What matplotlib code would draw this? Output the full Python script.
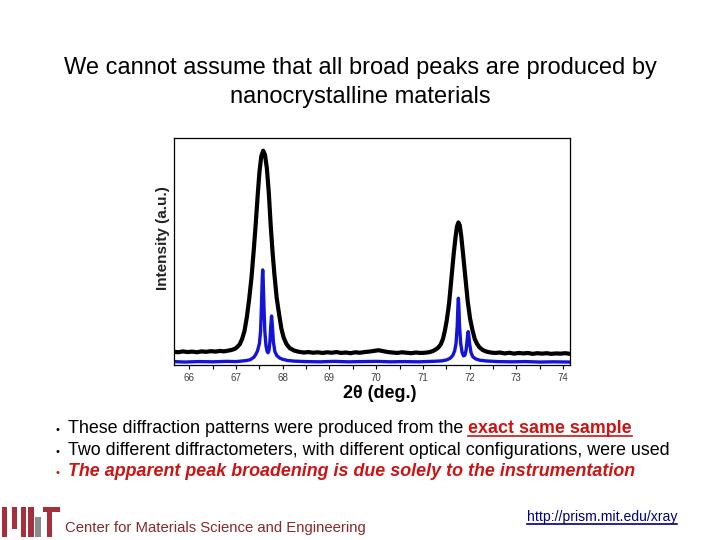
import matplotlib

matplotlib.use("Agg")
import matplotlib.pyplot as plt
from matplotlib.lines import Line2D
from matplotlib.patches import Rectangle

plt.rcParams["font.family"] = ["Liberation Sans", "DejaVu Sans"]

# black pattern (broad instrument)
black_x = [65.66, 65.76, 65.86, 65.96, 66.06, 66.16, 66.26, 66.36, 66.46, 66.56,
           66.66, 66.74, 66.82, 66.90, 66.98, 67.03, 67.08, 67.13, 67.18, 67.23,
           67.28, 67.33, 67.38, 67.42, 67.46, 67.50, 67.54, 67.58, 67.62, 67.66,
           67.70, 67.74, 67.78, 67.82, 67.87, 67.92, 67.97, 68.02, 68.08, 68.15,
           68.25, 68.35, 68.45, 68.55, 68.65, 68.75, 68.85, 68.95, 69.05, 69.15,
           69.25, 69.35, 69.45, 69.55, 69.65, 69.75, 69.85, 69.95, 70.05, 70.15,
           70.25, 70.35, 70.45, 70.55, 70.65, 70.75, 70.85, 70.95, 71.05, 71.15,
           71.22, 71.28, 71.33, 71.38, 71.43, 71.47, 71.51, 71.56, 71.61, 71.66,
           71.70, 71.73, 71.76, 71.79, 71.82, 71.86, 71.91, 71.96, 72.01, 72.06,
           72.11, 72.16, 72.21, 72.28, 72.36, 72.45, 72.55, 72.65, 72.75, 72.85,
           72.95, 73.05, 73.15, 73.25, 73.35, 73.45, 73.55, 73.65, 73.75, 73.85,
           73.95, 74.05, 74.15]
black_y = [5.9, 5.6, 6.0, 5.7, 5.9, 5.6, 6.0, 5.8, 6.1, 5.9,
           6.2, 6.0, 6.3, 6.6, 7.2, 8.0, 9.2, 11.5, 15.0, 21.0,
           29.0, 38.5, 51.0, 62.0, 74.0, 85.0, 92.0, 94.4, 92.5, 86.5,
           76.0, 62.0, 50.0, 40.0, 29.5, 22.5, 16.0, 12.0, 9.2, 7.4,
           6.3, 5.8, 5.5, 5.7, 5.4, 5.6, 5.3, 5.6, 5.4, 5.7,
           5.3, 5.5, 5.2, 5.6, 5.4, 5.7, 5.9, 6.2, 6.5, 6.1,
           5.7, 5.5, 5.3, 5.6, 5.4, 5.2, 5.5, 5.3, 5.4, 5.7,
           6.2, 6.9, 7.7, 9.0, 11.5, 15.0, 19.5, 27.0, 38.0, 49.0,
           56.5, 61.0, 62.8, 61.5, 57.0, 49.0, 38.5, 28.0, 20.5, 15.5,
           11.5, 9.3, 7.8, 6.6, 5.9, 5.5, 5.3, 5.5, 5.1, 5.4,
           5.0, 5.3, 5.1, 5.3, 4.9, 5.2, 5.0, 5.2, 4.9, 5.1,
           5.0, 5.2, 4.9]

# blue pattern (high resolution instrument)
blue_x = [65.66, 65.9, 66.2, 66.5, 66.8, 67.0, 67.2, 67.3, 67.38, 67.42,
          67.46, 67.50, 67.525, 67.545, 67.56, 67.57, 67.58, 67.595, 67.615, 67.64,
          67.665, 67.685, 67.705, 67.725, 67.742, 67.76, 67.778, 67.80, 67.83, 67.87,
          67.93, 68.0, 68.1, 68.25, 68.5, 68.8, 69.1, 69.4, 69.7, 70.0,
          70.3, 70.6, 70.9, 71.2, 71.4, 71.5, 71.58, 71.64, 71.68, 71.71,
          71.735, 71.75, 71.76, 71.77, 71.785, 71.81, 71.84, 71.87, 71.90, 71.925,
          71.945, 71.96, 71.97, 71.98, 72.0, 72.03, 72.07, 72.13, 72.22, 72.35,
          72.6, 72.9, 73.2, 73.5, 73.8, 74.15]
blue_y = [1.5, 1.3, 1.5, 1.4, 1.6, 1.5, 1.9, 2.3, 3.4, 4.6,
          6.3, 9.5, 15.0, 27.0, 38.0, 41.9, 38.0, 27.0, 15.0, 8.5,
          6.0, 5.4, 6.5, 10.5, 17.0, 21.6, 17.0, 10.0, 6.0, 4.2,
          3.1, 2.5, 2.0, 1.7, 1.5, 1.4, 1.6, 1.4, 1.5, 1.6,
          1.4, 1.5, 1.4, 1.6, 1.8, 2.2, 2.9, 4.2, 6.2, 9.5,
          17.0, 26.0, 29.4, 26.0, 17.0, 9.5, 5.5, 4.0, 4.3, 6.5,
          10.5, 13.5, 14.7, 13.5, 9.5, 5.5, 3.6, 2.7, 2.1, 1.8,
          1.5, 1.4, 1.5, 1.3, 1.4, 1.3]

x_ticks = [66, 67, 68, 69, 70, 71, 72, 73, 74]

title_lines = ["We cannot assume that all broad peaks are produced by",
               "nanocrystalline materials"]

RED = "#cc1414"
W, H = 720, 540


def fx(px):
    return px / W


def fy(py):
    return 1 - py / H


def draw_plot(fig):
    ax = fig.add_axes([fx(173.5), fy(365), (570 - 173.5) / W, (365 - 138) / H])
    ax.plot(black_x, black_y, color="black", lw=3.0, solid_joinstyle="round")
    ax.plot(blue_x, blue_y, color="#1414d8", lw=2.4, solid_joinstyle="round")
    ax.set_yticks([])
    ax.set_xticks(x_ticks)
    ax.set_xticks([t + 0.5 for t in x_ticks[:-1]], minor=True)
    ax.set_xlim(65.66, 74.15)
    ax.set_ylim(0, 100)
    ax.tick_params(axis="x", which="both", direction="out", length=3,
                   width=0.8, labelsize=7, labelcolor="#404040", pad=3)
    for s in ax.spines.values():
        s.set_linewidth(0.9)
    fig.text(fx(163), fy(238), "Intensity (a.u.)", rotation=90, ha="center",
             va="center", fontsize=11, fontweight="bold", color="#222222")
    fig.text(fx(380), fy(393), "2θ (deg.)", ha="center", va="center",
             fontsize=13, fontweight="bold")


def chain(fig, renderer, x, y, parts):
    # parts: (text, kwargs, underline)
    for text, kw, under in parts:
        t = fig.text(fx(x), fy(y), text, va="baseline", ha="left", **kw)
        bb = t.get_window_extent(renderer)
        if under:
            fig.add_artist(Line2D([bb.x0 / W, bb.x1 / W],
                                  [(H - y - 2.5) / H] * 2,
                                  color=kw.get("color", "black"), lw=1.2))
        x += bb.width


def draw_text(fig):
    renderer = fig.canvas.get_renderer()
    fig.text(0.5, fy(68), title_lines[0], ha="center", va="center", fontsize=17)
    fig.text(0.5, fy(97), title_lines[1], ha="center", va="center", fontsize=17)

    size = 12.9
    for yb, col in [(433, "black"), (455, "black"), (476, RED)]:
        fig.text(fx(55), fy(yb), "•", fontsize=8, color=col, va="baseline")
    chain(fig, renderer, 68, 433, [
        ("These diffraction patterns were produced from the ",
         dict(fontsize=size, color="black"), False),
        ("exact same sample",
         dict(fontsize=size, color=RED, fontweight="bold"), True),
    ])
    chain(fig, renderer, 68, 455, [
        ("Two different diffractometers, with different optical configurations, were used",
         dict(fontsize=size, color="black"), False),
    ])
    chain(fig, renderer, 68, 476, [
        ("The apparent peak broadening is due solely to the instrumentation",
         dict(fontsize=size, color=RED, fontweight="bold", fontstyle="italic"), False),
    ])

    logo_red = "#a3303a"
    logo_gray = "#8a8b8c"
    bars = [(1.7, 507, 5.6, 30, logo_red), (11.7, 507, 5.6, 22, logo_red),
            (20.7, 507, 5.4, 30, logo_red), (28.3, 507, 5.2, 30, logo_red),
            (35.0, 517, 5.7, 20, logo_gray), (43.3, 507, 17, 5, logo_red),
            (46.5, 507, 5.6, 30, logo_red)]
    for bx, by, bw, bh, c in bars:
        fig.add_artist(Rectangle((fx(bx), fy(by + bh)), bw / W, bh / H,
                                 transform=fig.transFigure, color=c, lw=0))

    fig.text(fx(65), fy(532), "Center for Materials Science and Engineering",
             fontsize=10.7, color="#8b2828", va="baseline")
    chain(fig, renderer, 527, 521, [
        ("http://prism.mit.edu/xray", dict(fontsize=10.1, color="#000080"), True),
    ])


def main():
    fig = plt.figure(figsize=(7.2, 5.4), dpi=100)
    draw_plot(fig)
    draw_text(fig)
    fig.savefig("out.png", dpi=100)


if __name__ == "__main__":
    main()
